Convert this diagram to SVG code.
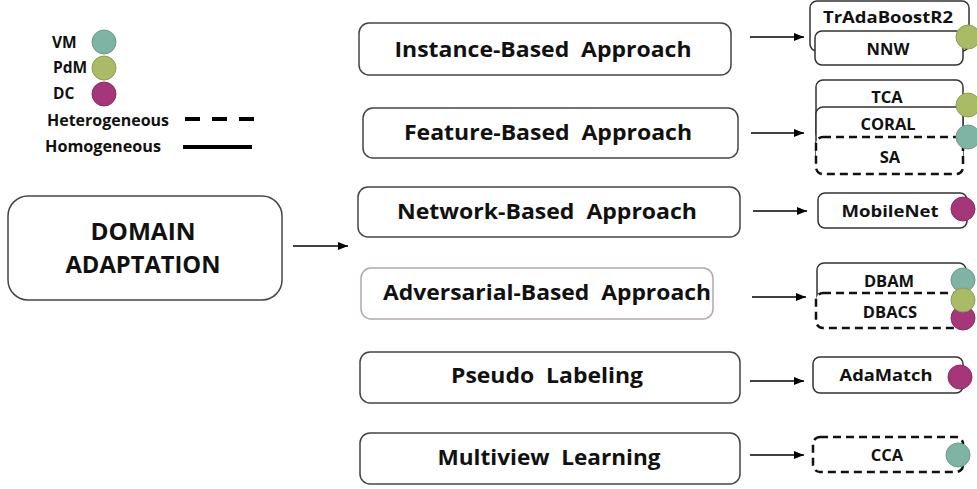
<svg xmlns="http://www.w3.org/2000/svg" width="977" height="489" viewBox="0 0 977 489">
<defs>
<marker id="ah" viewBox="0 0 10 10" refX="10" refY="5" markerWidth="10" markerHeight="10" markerUnits="userSpaceOnUse" orient="auto">
<path d="M0,1 L10,5 L0,9 Z" fill="#000"/>
</marker>
<style>
text{font-family:"Open Sans","Liberation Sans",sans-serif;font-weight:bold;fill:#111;}
.big{font-size:23px;}
.app{font-size:22px;text-anchor:middle;}
.sm{font-size:16.5px;text-anchor:middle;}
.leg{font-size:15.5px;}
.box{fill:#fff;stroke:#444;stroke-width:1.5;}
.sbox{fill:#fff;stroke:#333;stroke-width:1.5;}
.dbox{fill:#fff;stroke:#111;stroke-width:2.5;stroke-dasharray:8 5;}
.arr{stroke:#000;stroke-width:1.5;fill:none;marker-end:url(#ah);}
.vm{fill:#7fb4a4;stroke:#6a9c8d;stroke-width:1;}
.pdm{fill:#a9bb64;stroke:#8d9e4e;stroke-width:1;}
.dc{fill:#a5367a;stroke:#8c2b66;stroke-width:1;}
</style>
</defs>
<rect width="977" height="489" fill="#fff"/>

<g id="legend">
<text class="leg" x="52" y="48">VM</text>
<circle class="vm" cx="104" cy="42" r="12"/>
<text class="leg" x="53" y="73">PdM</text>
<circle class="pdm" cx="104" cy="68" r="12"/>
<text class="leg" x="53" y="99">DC</text>
<circle class="dc" cx="104" cy="94" r="12"/>
<text class="leg" x="47" y="126" textLength="122" lengthAdjust="spacingAndGlyphs">Heterogeneous</text>
<line x1="185" y1="119" x2="258" y2="119" stroke="#000" stroke-width="4" stroke-dasharray="15 12"/>
<text class="leg" x="45" y="152" textLength="116" lengthAdjust="spacingAndGlyphs">Homogeneous</text>
<line x1="183" y1="147" x2="252" y2="147" stroke="#000" stroke-width="4"/>
</g>

<g id="domain">
<rect class="box" x="8" y="196" width="274" height="104" rx="20"/>
<text class="big" x="143" y="240" text-anchor="middle" textLength="105" lengthAdjust="spacingAndGlyphs">DOMAIN</text>
<text class="big" x="143" y="273" text-anchor="middle" textLength="155" lengthAdjust="spacingAndGlyphs">ADAPTATION</text>
</g>

<g id="instance">
<rect class="box" x="359" y="23" width="372" height="52" rx="10"/>
<text class="app" x="543" y="57" textLength="297" lengthAdjust="spacingAndGlyphs">Instance-Based&#160; Approach</text>
</g>
<g id="feature">
<rect class="box" x="363" y="108" width="375" height="50" rx="10"/>
<text class="app" x="548" y="140" textLength="288" lengthAdjust="spacingAndGlyphs">Feature-Based&#160; Approach</text>
</g>
<g id="network">
<rect class="box" x="358" y="187" width="382" height="50" rx="10"/>
<text class="app" x="547" y="219" textLength="300" lengthAdjust="spacingAndGlyphs">Network-Based&#160; Approach</text>
</g>
<g id="adversarial">
<rect x="361" y="268" width="352" height="51" rx="10" fill="#fff" stroke="#b3a6ad" stroke-width="1.5"/>
<text class="app" x="547" y="300" textLength="328" lengthAdjust="spacingAndGlyphs">Adversarial-Based&#160; Approach</text>
</g>
<g id="pseudo">
<rect class="box" x="360" y="352" width="380" height="51" rx="10"/>
<text class="app" x="547" y="383" textLength="192" lengthAdjust="spacingAndGlyphs">Pseudo&#160; Labeling</text>
</g>
<g id="multiview">
<rect class="box" x="360" y="433" width="380" height="51" rx="10"/>
<text class="app" x="549" y="465" textLength="223" lengthAdjust="spacingAndGlyphs">Multiview&#160; Learning</text>
</g>

<g id="connectors">
<line class="arr" x1="293" y1="246" x2="348" y2="246"/>
<line class="arr" x1="750" y1="37" x2="804" y2="37"/>
<line class="arr" x1="751" y1="133" x2="804" y2="133"/>
<line class="arr" x1="753" y1="211" x2="807" y2="211"/>
<line class="arr" x1="752" y1="297" x2="806" y2="297"/>
<line class="arr" x1="750" y1="381" x2="804" y2="381"/>
<line class="arr" x1="750" y1="455" x2="804" y2="455"/>
</g>

<g id="instance-methods">
<rect class="sbox" x="810" y="1" width="159" height="50" rx="7"/>
<text class="sm" x="888" y="23" textLength="130" lengthAdjust="spacingAndGlyphs">TrAdaBoostR2</text>
<rect class="sbox" x="815" y="31" width="148" height="34" rx="7"/>
<text class="sm" x="888" y="55">NNW</text>
<circle class="pdm" cx="968" cy="37" r="12"/>
</g>

<g id="feature-methods">
<rect class="sbox" x="816" y="80" width="147" height="60" rx="7"/>
<text class="sm" x="887" y="103">TCA</text>
<rect class="sbox" x="816" y="107" width="147" height="60" rx="7"/>
<text class="sm" x="888" y="130">CORAL</text>
<rect class="dbox" x="816" y="137" width="147" height="37" rx="7"/>
<text class="sm" x="890" y="163">SA</text>
<circle class="pdm" cx="968" cy="105" r="12"/>
<circle class="vm" cx="968" cy="137" r="12"/>
</g>

<g id="network-methods">
<rect class="sbox" x="818" y="193" width="149" height="35" rx="7"/>
<text class="sm" x="890" y="217" textLength="97" lengthAdjust="spacingAndGlyphs">MobileNet</text>
<circle class="dc" cx="963" cy="209" r="12"/>
</g>

<g id="adversarial-methods">
<rect class="sbox" x="817" y="263" width="149" height="50" rx="7"/>
<text class="sm" x="889" y="287">DBAM</text>
<rect class="dbox" x="816" y="293" width="149" height="35" rx="7"/>
<text class="sm" x="890" y="318">DBACS</text>
<circle class="vm" cx="963" cy="280" r="12"/>
<circle class="dc" cx="963" cy="318" r="12"/>
<circle class="pdm" cx="963" cy="300" r="12"/>
</g>

<g id="pseudo-methods">
<rect class="sbox" x="813" y="357" width="150" height="36" rx="7"/>
<text class="sm" x="886" y="381" textLength="93" lengthAdjust="spacingAndGlyphs">AdaMatch</text>
<circle class="dc" cx="960" cy="377" r="12"/>
</g>

<g id="multiview-methods">
<rect class="dbox" x="813" y="437" width="150" height="35" rx="7"/>
<text class="sm" x="887" y="461">CCA</text>
<circle class="vm" cx="958" cy="455" r="12"/>
</g>
</svg>
